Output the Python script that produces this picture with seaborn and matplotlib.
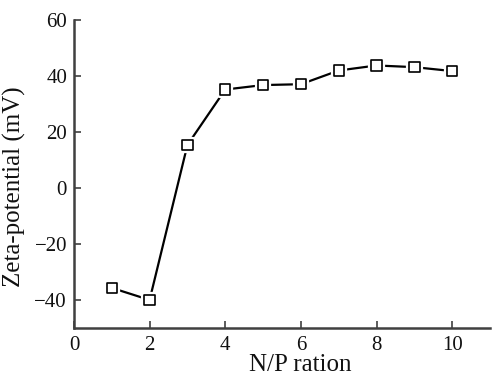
import numpy as np
import pandas as pd
import matplotlib
matplotlib.use("Agg")
import matplotlib.pyplot as plt
import matplotlib.patheffects as pe
import seaborn as sns

np_ratio = [1, 2, 3, 4, 5, 6, 7, 8, 9, 10]
zeta = [-35.7, -40.0, 15.4, 35.2, 36.8, 37.1, 42.0, 43.8, 43.2, 41.8]

data = pd.DataFrame({'np_ratio': np_ratio, 'zeta': zeta})

sns.set_style("ticks")
plt.rcParams['font.family'] = ['Liberation Serif', 'DejaVu Serif']

fig = plt.figure(figsize=(4.93, 3.8), dpi=100)
ax = fig.add_axes([0.150, 0.137, 0.844, 0.81])

# line first, then hollow squares with a small white halo so the line stops short
sns.lineplot(data=data, x='np_ratio', y='zeta', ax=ax, color='black',
             linewidth=1.6)
sq = sns.scatterplot(data=data, x='np_ratio', y='zeta', ax=ax, marker='s',
                     s=55, facecolor='white', edgecolor='black', linewidth=1.2,
                     zorder=3)
sq.collections[-1].set_path_effects([pe.withStroke(linewidth=4.5, foreground='white')])

ax.set_xlim(0, 11)
ax.set_ylim(-50, 60)
ax.set_xticks([0, 2, 4, 6, 8, 10])
ax.set_yticks([-40, -20, 0, 20, 40, 60])
ax.set_yticklabels(['\u221240', '\u221220', '0', '20', '40', '60'])
ax.tick_params(direction='in', length=5, width=1.2, labelsize=15, color='#404040',
               labelcolor='#111111')
ax.tick_params(axis='x', pad=6)
ax.tick_params(axis='y', pad=5)
for s in ['top', 'right']:
    ax.spines[s].set_visible(False)
for s in ['left', 'bottom']:
    ax.spines[s].set_color('#404040')
    ax.spines[s].set_linewidth(1.8)

ax.set_xlabel('N/P ration', fontsize=18, color='#111111')
ax.set_ylabel('Zeta-potential (mV)', fontsize=18, color='#111111')
ax.xaxis.set_label_coords(0.545, -0.085)
ax.yaxis.set_label_coords(-0.115, 0.46)

fig.savefig('out.png', dpi=100)
